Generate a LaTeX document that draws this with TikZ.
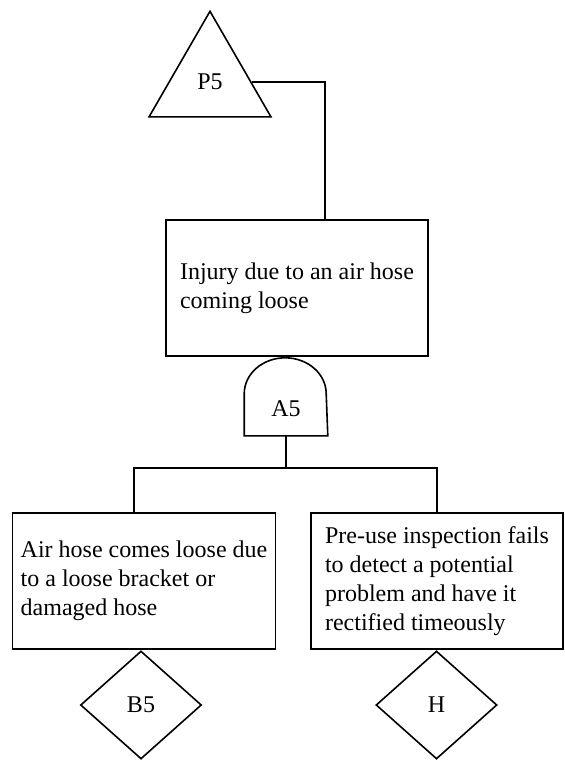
\documentclass[tikz,border=0pt]{standalone}
\usepackage{fontspec}
\setmainfont{Liberation Serif}
\usetikzlibrary{shapes}
\tikzstyle{event}=[rectangle,draw,minimum width=131pt,minimum height=68pt,align=left,inner sep=4pt]
\tikzstyle{transfer}=[regular polygon,regular polygon sides=3,draw,minimum size=70.4pt,inner sep=0pt]
\tikzstyle{basic}=[diamond,draw,minimum width=60.5pt,minimum height=54pt,inner sep=0pt]
\tikzstyle{gate}=[rectangle,minimum width=41pt,minimum height=39pt,inner sep=0pt,text height=20pt,text depth=0pt]

\begin{document}
\begin{tikzpicture}[x=0.5pt,y=-0.5pt,line width=0.8pt,
  font=\fontsize{12pt}{14.4pt}\selectfont]
\useasboundingbox (0,0) rectangle (564,760);
\node [transfer] (P5) at (210,81.7) {P5};
\node [event] (top) at (297,288) {Injury due to an air hose\\coming loose};
\node [gate] (A5) at (286,396) {A5};
% and gate outline
\draw (A5.south west) -- ++(0pt,21pt)
  arc[start angle=180,end angle=0,x radius=20.5pt,y radius=18pt]
  -- (A5.south east) -- cycle;
\coordinate (jA) at (286,468);
\node [event] (left) at (144,581) {Air hose comes loose due\\to a loose bracket or\\damaged hose};
\node [event,minimum width=126pt] (right) at (437,581) {Pre-use inspection fails\\to detect a potential\\problem and have it\\rectified timeously};
\node [basic] (B5) at (141,705) {B5};
\node [basic] (H) at (436.5,705) {H};
\draw (P5.east) -| ([xshift=14pt]top.north);
\draw (A5.south) -- (jA);
\draw ([xshift=-5pt]left.north) |- (jA) -| (right.north);
\end{tikzpicture}
\end{document}
